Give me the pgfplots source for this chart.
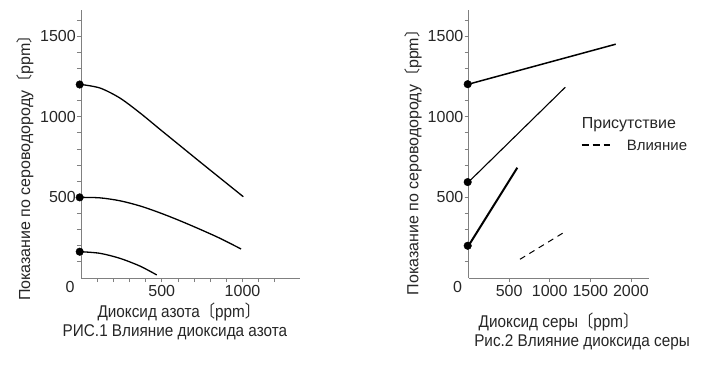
\documentclass[border=0pt]{standalone}
\usepackage{fontspec}
\setmainfont{Liberation Sans}
\newfontfamily\narrow[FakeStretch=0.9]{Liberation Sans}
\newfontfamily\cjknarrow[FakeStretch=0.9]{Noto Sans CJK SC}
\newfontfamily\cjk{Noto Sans CJK SC}
\usepackage{pgfplots}
\pgfplotsset{compat=1.18}

\pgfplotsset{
 myaxis/.style={
  scale only axis, clip=false,
  axis x line*=bottom, axis y line*=left,
  axis line style={draw=gray, line width=1pt, -},
  ymin=0, ymax=1662, height=268pt,
  ytick={500,1000,1500}, minor ytick={100,200,...,1600},
  tick align=outside, major tick length=4pt, minor tick length=4pt,
  every tick/.style={draw=gray, line width=0.8pt},
  minor tick style={draw=gray, line width=0.8pt},
  /pgf/number format/assume math mode=true,
  /pgf/number format/1000 sep={},
  ticklabel style={font=\fontsize{16}{18}\selectfont, text=black!85},
  yticklabel style={inner xsep=1pt},
  extra x ticks={0},
  extra x tick style={major tick length=0pt, xticklabel style={xshift=-11pt}},
  label style={text=black!85},
 },
 curve/.style={black, line width=1.3pt, smooth, tension=0.5},
 dot/.style={black, only marks, mark=*, mark size=3.8pt},
}

\begin{document}
\begin{tikzpicture}
\useasboundingbox (0pt,0pt) rectangle (727pt,368pt);

% ---------- Figure 1 ----------
\begin{axis}[myaxis,
  at={(81pt,90pt)}, anchor=south west,
  width=219pt, xmin=0, xmax=1356,
  xtick={500,1000}, minor xtick={100,200,...,1200},
  xlabel={Диоксид азота{\cjknarrow 〔}ppm{\cjknarrow 〕}},
  xlabel style={at={(axis description cs:0.447,-0.127)}, anchor=center, font=\narrow\fontsize{17}{20}\selectfont},
  ylabel={Показание по сероводороду{\cjk 〔}ppm{\cjk 〕}},
  ylabel style={at={(axis description cs:-0.256,0.425)}, anchor=center, font=\fontsize{16}{19}\selectfont},
]
\addplot[curve] coordinates {(0,1200)(118,1178)(241,1116)(365,1024)(489,922)(613,821)(737,720)(861,620)(1005,504)};
\addplot[curve] coordinates {(0,500)(118,497)(241,479)(365,447)(489,404)(613,355)(737,302)(861,246)(991,180)};
\addplot[curve] coordinates {(0,163)(118,153)(241,122)(365,74)(469,19)};
\addplot[dot] coordinates {(-8,1200)(-8,500)(-8,163)};
\node[font=\narrow\fontsize{17}{20}\selectfont, text=black!85] at (axis description cs:0.429,-0.2015) {РИС.1 Влияние диоксида азота};
\end{axis}

% ---------- Figure 2 ----------
\begin{axis}[myaxis,
  at={(468.5pt,90pt)}, anchor=south west,
  width=180.5pt, xmin=0, xmax=2223,
  xtick={500,1000,1500,2000},
  xlabel={Диоксид серы{\cjknarrow 〔}ppm{\cjknarrow 〕}},
  xlabel style={at={(axis description cs:0.499,-0.164)}, anchor=center, font=\narrow\fontsize{17}{20}\selectfont},
  ylabel={Показание по сероводороду{\cjk 〔}ppm{\cjk 〕}},
  ylabel style={at={(axis description cs:-0.307,0.446)}, anchor=center, font=\fontsize{16}{19}\selectfont},
]
\addplot[black, line width=1.5pt] coordinates {(0,1202)(1813,1450)};
\addplot[black, line width=1.1pt] coordinates {(0,595)(1192,1183)};
\addplot[black, line width=2pt] coordinates {(0,200)(601,684)};
\addplot[black, line width=1pt, dash pattern=on 6pt off 5pt] coordinates {(634,116)(1176,283)};
\addplot[dot] coordinates {(-10,1202)(-10,595)(-10,200)};
\node[anchor=west, font=\fontsize{16}{19}\selectfont, text=black!85, inner sep=0pt] at (axis description cs:0.627,0.571) {Присутствие};
\draw[black, line width=1.2pt, dash pattern=on 7pt off 4pt] (axis description cs:0.627,0.496) -- (axis description cs:0.785,0.496);
\node[anchor=west, font=\fontsize{15}{18}\selectfont, text=black!85, inner sep=0pt] at (axis description cs:0.876,0.496) {Влияние};
\node[font=\narrow\fontsize{17}{20}\selectfont, text=black!85] at (axis description cs:0.629,-0.239) {Рис.2 Влияние диоксида серы};
\end{axis}
\end{tikzpicture}
\end{document}
